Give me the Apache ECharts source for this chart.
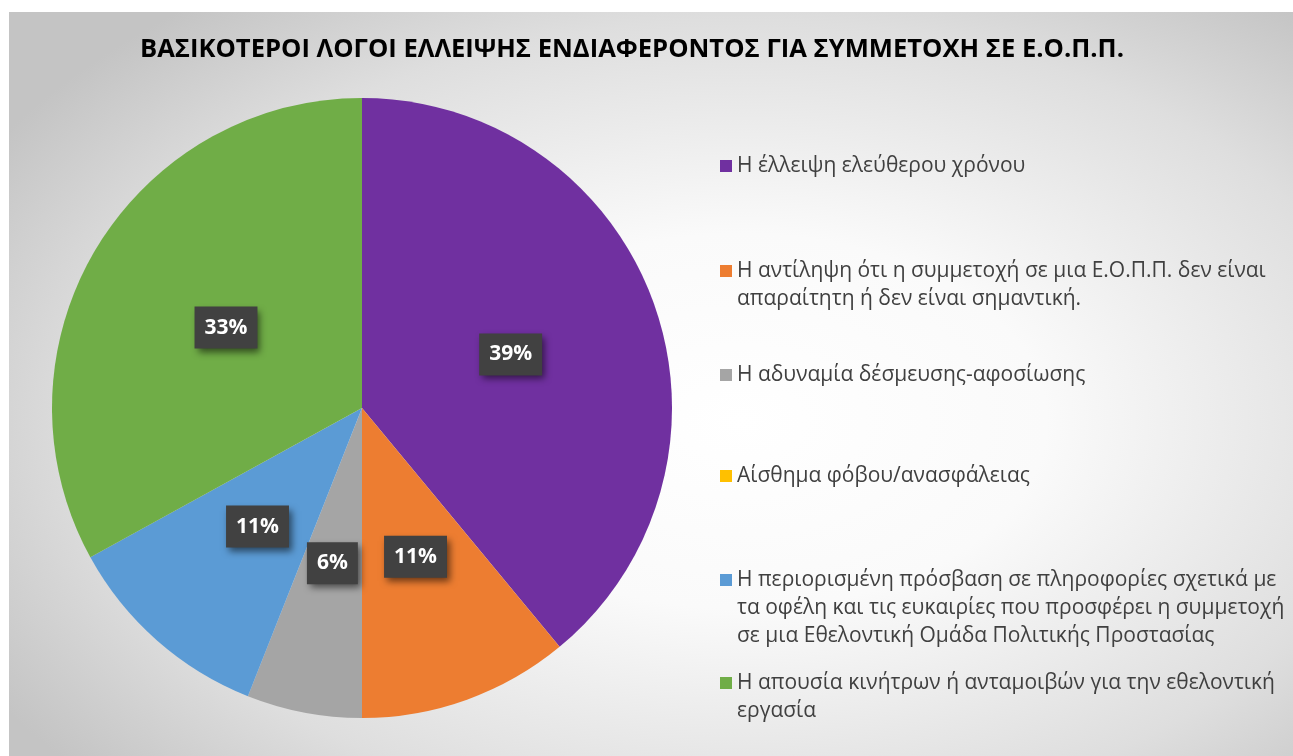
<!DOCTYPE html>
<html>
<head>
<meta charset="utf-8">
<script src="https://cdn.jsdelivr.net/npm/echarts@6/dist/echarts.min.js"></script>
<style>
  html, body { margin: 0; padding: 0; background: #ffffff; }
  #bg { position: absolute; left: 9px; top: 12px; width: 1284px; height: 744px;
        background: radial-gradient(ellipse 68% 72% at 57% 55%, #ffffff 0%, #fafafa 35%, #dedede 75%, #c4c4c4 100%); }
  #chart { position: absolute; left: 0; top: 0; width: 1293px; height: 756px; }
</style>
</head>
<body>
<div id="bg"></div>
<div id="chart"></div>
<script>
const titleText = 'ΒΑΣΙΚΟΤΕΡΟΙ ΛΟΓΟΙ ΕΛΛΕΙΨΗΣ ΕΝΔΙΑΦΕΡΟΝΤΟΣ ΓΙΑ ΣΥΜΜΕΤΟΧΗ ΣΕ Ε.Ο.Π.Π.';
const categories = [
  'Η έλλειψη ελεύθερου χρόνου',
  'Η αντίληψη ότι η συμμετοχή σε μια Ε.Ο.Π.Π. δεν είναι\nαπαραίτητη ή δεν είναι σημαντική.',
  'Η αδυναμία δέσμευσης-αφοσίωσης',
  'Αίσθημα φόβου/ανασφάλειας',
  'Η περιορισμένη πρόσβαση σε πληροφορίες σχετικά με\nτα οφέλη και τις ευκαιρίες που προσφέρει η συμμετοχή\nσε μια Εθελοντική Ομάδα Πολιτικής Προστασίας',
  'Η απουσία κινήτρων ή ανταμοιβών για την εθελοντική\nεργασία'
];
const values = [39, 11, 6, 0, 11, 33];
const colors = ['#7030A0', '#ED7D31', '#A5A5A5', '#FFC000', '#5B9BD5', '#70AD47'];

const chart = echarts.init(document.getElementById('chart'), null, { renderer: 'canvas' });

const LH = 27.8;
const legendCenters = [166, 271, 375, 476, 580, 683];
const legends = categories.map((name, i) => {
  const n = name.split('\n').length;
  return {
    show: true,
    data: [name],
    orient: 'vertical',
    left: 720,
    top: legendCenters[i] - (2 * n - 1) * LH / 2,
    padding: 0,
    itemWidth: 12,
    itemHeight: 12,
    icon: 'rect',
    selectedMode: false,
    formatter: nm => '\n'.repeat(n - 1) + nm,
    textStyle: {
      fontFamily: 'Open Sans',
      fontSize: 21,
      color: '#404040',
      lineHeight: LH
    }
  };
});

chart.setOption({
  animation: false,
  backgroundColor: 'transparent',
  title: {
    text: titleText,
    left: 140,
    top: 37,
    padding: 0,
    textStyle: { fontFamily: 'Open Sans', fontWeight: 'bold', fontSize: 25.6, color: '#000000' }
  },
  legend: legends,
  series: [{
    type: 'pie',
    center: [362, 408],
    radius: 310,
    startAngle: 90,
    clockwise: true,
    avoidLabelOverlap: false,
    emphasis: { disabled: true },
    itemStyle: { borderWidth: 0 },
    label: {
      show: true,
      position: 'inside',
      formatter: p => Math.round(p.percent) + '%',
      fontFamily: 'Open Sans',
      fontWeight: 'bold',
      fontSize: 21,
      lineHeight: 23,
      color: '#ffffff',
      backgroundColor: '#414141',
      padding: [10, 10, 9, 10],
      shadowColor: 'rgba(0,0,0,0.55)',
      shadowBlur: 7,
      shadowOffsetX: 3,
      shadowOffsetY: 4
    },
    labelLine: { show: false },
    data: categories.map((name, i) => ({
      name: name,
      value: values[i],
      itemStyle: { color: colors[i] },
      label: values[i] === 0 ? { show: false } : undefined
    }))
  }]
});
</script>
</body>
</html>
